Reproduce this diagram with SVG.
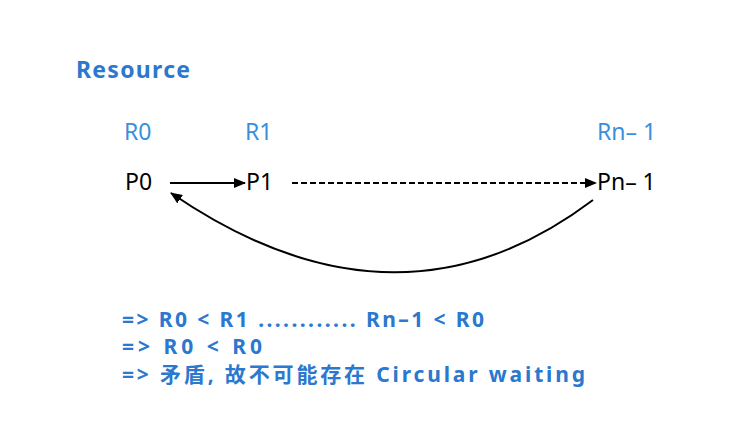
<svg xmlns="http://www.w3.org/2000/svg" width="746" height="444" viewBox="0 0 746 444">
<defs>
<style>
.t{font-family:"Noto Sans","Liberation Sans","Noto Sans CJK SC",sans-serif;font-size:23px}
.s{font-family:"Noto Sans","Liberation Sans","Noto Sans CJK SC",sans-serif;font-size:21px;font-weight:bold}
.h{font-size:23px}
.blue{fill:#2a78cf}
.lb{fill:#3a8ee0}
.blk{fill:#000}
.ln{stroke:#000;stroke-width:2;fill:none}
</style>
<marker id="ah" markerWidth="12" markerHeight="10" refX="11" refY="5" orient="auto" markerUnits="userSpaceOnUse">
<path d="M0,0 L12,5 L0,10 z" fill="#000"/>
</marker>
</defs>
<rect width="746" height="444" fill="#fff"/>
<text class="s h blue" x="76" y="78" textLength="114">Resource</text>
<g id="R0"><text class="t lb" x="124" y="140">R0</text></g>
<g id="R1"><text class="t lb" x="245" y="140">R1</text></g>
<g id="Rn1"><text class="t lb" x="597" y="140">Rn– 1</text></g>
<g id="P0"><text class="t blk" x="125" y="190">P0</text></g>
<g id="P1"><text class="t blk" x="246" y="190">P1</text></g>
<g id="Pn1"><text class="t blk" x="597" y="190">Pn– 1</text></g>
<g id="connectors">
<line class="ln" x1="170" y1="183" x2="245" y2="183" marker-end="url(#ah)"/>
<line class="ln" x1="292" y1="183" x2="596" y2="183" stroke-dasharray="6,3" marker-end="url(#ah)"/>
<path class="ln" d="M593,200 Q397,348 171,193" marker-end="url(#ah)"/>
</g>
<text class="s blue" x="122" y="327" textLength="362">=&gt; R0 &lt; R1 ............ Rn–1 &lt; R0</text>
<text class="s blue" x="122" y="354" textLength="140">=&gt; R0 &lt; R0</text>
<text class="s blue" x="122" y="382" textLength="463">=&gt; 矛盾, 故不可能存在 Circular waiting</text>
</svg>
